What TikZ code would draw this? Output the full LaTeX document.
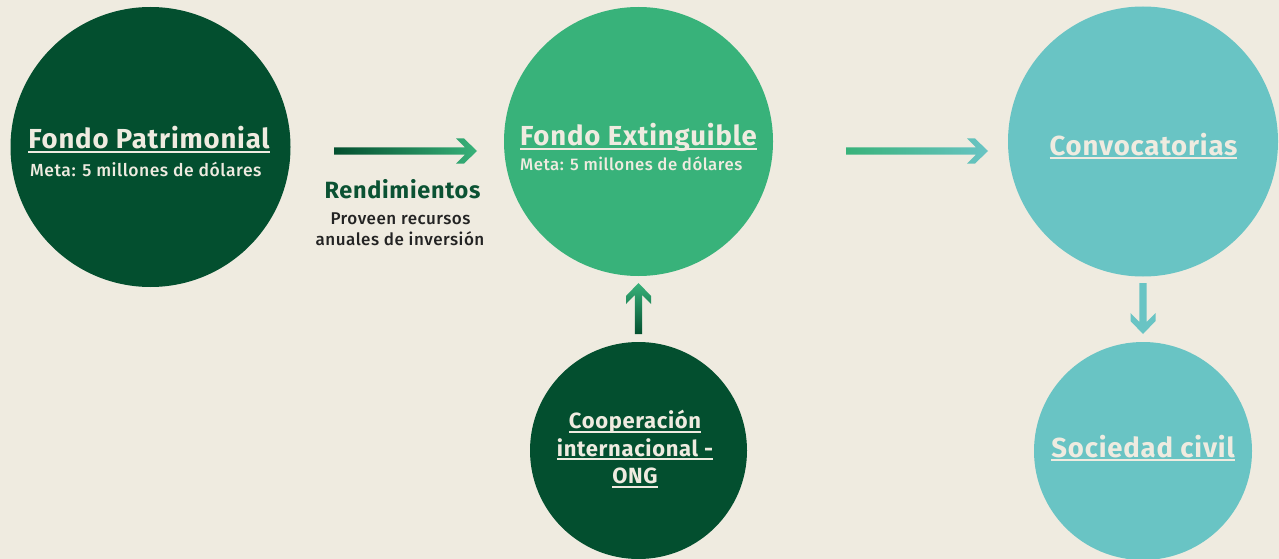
\documentclass[tikz,border=0pt]{standalone}
\usepackage{fontspec}
\setmainfont{Fira Sans}[LetterSpace=3]
\newfontfamily\medio{Fira Sans Medium}[LetterSpace=3]
\usetikzlibrary{calc}

\definecolor{fondo}{HTML}{EFEBE0}
\definecolor{crema}{HTML}{EFEBE0}
\definecolor{verdeosc}{HTML}{034F2F}
\definecolor{verdemed}{HTML}{38B27A}
\definecolor{turquesa}{HTML}{69C4C4}
\definecolor{verdetxt}{HTML}{0B5233}
\definecolor{gristxt}{HTML}{232323}

% subrayado a 4pt bajo la linea base
\newcommand\subrayar[1]{\setbox0\hbox{#1}\rlap{\rule[-4pt]{\wd0}{2pt}}\box0}

\tikzset{
    circulo/.style={circle, minimum size=#1, inner sep=0pt},
    titulo/.style={text=crema, inner sep=0pt, font=\bfseries\fontsize{27.5}{30}\selectfont},
    meta/.style={text=crema, inner sep=0pt, font=\medio\fontsize{17.5}{21}\selectfont},
}

% flecha de #1 a #2, sombreado #3
\newcommand\flecha[3]{%
    \shade[#3] let \p1=(#1), \p2=(#2), \n1={veclen(\x2-\x1,\y2-\y1)}, \n2={atan2(\y2-\y1,\x2-\x1)} in
        [shift={(\p1)}, rotate=\n2] (0,-3.7) -- (\n1-12,-3.7) -- (\n1-21,-12.5) -- (\n1-13,-12.5)
        -- (\n1,0) -- (\n1-13,12.5) -- (\n1-21,12.5) -- (\n1-12,3.7) -- (0,3.7) -- cycle;
}

\begin{document}
\begin{tikzpicture}[x=1pt, y=-1pt]
    \useasboundingbox (0,0) rectangle (1279,559);
    \fill[fondo] (0,0) rectangle (1279,559);

    % circulos
    \node[circulo=280, fill=verdeosc] (patri) at (150.5,147) {};
    \node[circulo=269, fill=verdemed] (extin) at (638.5,141.5) {};
    \node[circulo=270, fill=turquesa] (convo) at (1143,141.5) {};
    \node[circulo=217, fill=verdeosc] (coop) at (638.5,450.5) {};
    \node[circulo=218, fill=turquesa] (socie) at (1143,451) {};

    % textos
    \node[titulo, anchor=base] (patritit) at (149,149) {\subrayar{Fondo Patrimonial}};
    \node[meta, anchor=base west] (patrimeta) at (30,176.5) {Meta: 5 millones de dólares};
    \node[titulo, anchor=base] (extintit) at (638.5,146) {\subrayar{Fondo Extinguible}};
    \node[meta, anchor=base west, font=\medio\fontsize{16.8}{20}\selectfont] (extinmeta) at (520,170) {Meta: 5 millones de dólares};
    \node[titulo, anchor=base] (convotit) at (1143.5,155) {\subrayar{Convocatorias}};
    \node[titulo, anchor=base] (societit) at (1143,457) {\subrayar{Sociedad civil}};
    \node[titulo, align=center, font=\bfseries\fontsize{22}{27.5}\selectfont] (cooptit) at (635,449)
        {\subrayar{Cooperación}\\\subrayar{internacional -}\\\subrayar{ONG}};

    \node[anchor=base, inner sep=0pt, text=verdetxt, font=\bfseries\fontsize{23.5}{26}\selectfont] (rend) at (402.5,198) {Rendimientos};
    \node[anchor=base, inner sep=0pt, text=gristxt, font=\medio\fontsize{17}{20}\selectfont] (prov1) at (400.5,224) {Proveen recursos};
    \node[anchor=base, inner sep=0pt, text=gristxt, font=\medio\fontsize{17}{20}\selectfont] (prov2) at (400,245) {anuales de inversión};

    % flechas
    \coordinate (f1a) at (334,151);
    \coordinate (f1b) at (477,151);
    \coordinate (f2a) at (846,151);
    \coordinate (f2b) at (988,151);
    \coordinate (f3a) at (638.5,334);
    \coordinate (f3b) at (638.5,283);
    \coordinate (f4a) at (1143,283);
    \coordinate (f4b) at (1143,334);
    \flecha{f1a}{f1b}{left color=verdeosc, right color=verdemed}
    \flecha{f2a}{f2b}{left color=verdemed, right color=turquesa}
    \flecha{f3a}{f3b}{bottom color=verdeosc, top color=verdemed}
    \flecha{f4a}{f4b}{top color=turquesa, bottom color=turquesa}
\end{tikzpicture}
\end{document}
